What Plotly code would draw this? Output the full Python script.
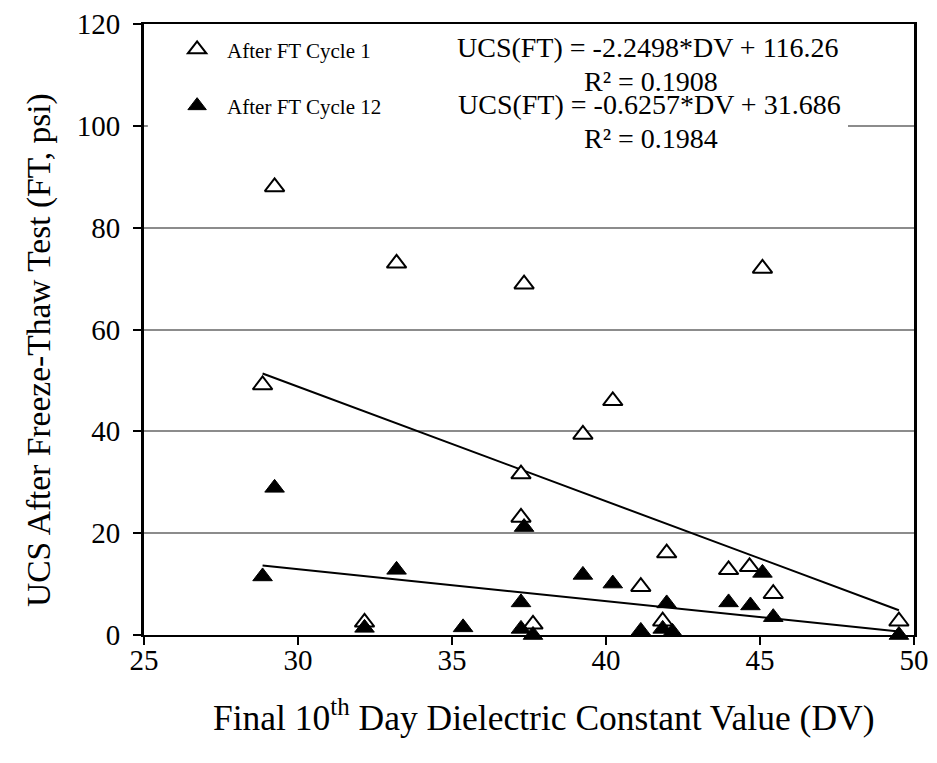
import plotly.graph_objects as go

# Cycle 1 (open triangles)
dv_c1 = [28.85, 29.24, 32.16, 33.2, 37.24, 37.24, 37.34, 37.63, 39.25, 40.22,
         41.13, 41.84, 41.97, 43.98, 44.66, 45.08, 45.43, 49.51]
ucs_c1 = [49.1, 88.0, 2.5, 73.0, 31.6, 23.1, 68.9, 2.1, 39.4, 46.0,
          9.5, 2.7, 16.1, 12.8, 13.4, 72.0, 8.1, 2.7]

# Cycle 12 (filled triangles)
dv_c12 = [28.85, 29.24, 32.16, 33.2, 35.36, 37.24, 37.24, 37.34, 37.63, 39.25,
          40.22, 41.13, 41.84, 41.97, 42.16, 43.98, 44.69, 45.08, 45.43, 49.51]
ucs_c12 = [11.5, 28.9, 1.4, 12.8, 1.5, 6.4, 1.2, 21.2, 0.0, 11.8,
           10.1, 0.8, 1.2, 6.2, 0.6, 6.4, 5.8, 12.2, 3.5, 0.0]

# Linear fit coefficients (from chart equations)
slope_c1, icpt_c1, r2_c1 = -2.2498, 116.26, 0.1908
slope_c12, icpt_c12, r2_c12 = -0.6257, 31.686, 0.1984

x_ticks = [25, 30, 35, 40, 45, 50]
y_ticks = [0, 20, 40, 60, 80, 100, 120]

FONT = "Times New Roman, Liberation Serif, serif"
W, H = 937, 763
L, R, T, B = 136, 31, 16, 136
PW, PH = W - L - R, H - T - B

fig = go.Figure()

def trend(xs, m, b):
    x0, x1 = min(xs), max(xs)
    return [x0, x1], [m * x0 + b, m * x1 + b]

tx1, ty1 = trend(dv_c1, slope_c1, icpt_c1)
tx12, ty12 = trend(dv_c12, slope_c12, icpt_c12)

fig.add_trace(go.Scatter(x=tx1, y=ty1, mode="lines", line=dict(color="black", width=2),
                         showlegend=False, hoverinfo="skip"))
fig.add_trace(go.Scatter(x=tx12, y=ty12, mode="lines", line=dict(color="black", width=2),
                         showlegend=False, hoverinfo="skip"))

fig.add_trace(go.Scatter(
    x=dv_c1, y=ucs_c1, mode="markers", name="After FT Cycle 1", legendgroup="a",
    marker=dict(symbol="triangle-up", size=17, color="white",
                line=dict(color="black", width=2)),
    cliponaxis=False))
fig.add_trace(go.Scatter(
    x=dv_c12, y=ucs_c12, mode="markers", name="After FT Cycle 12", legendgroup="b",
    marker=dict(symbol="triangle-up", size=17, color="black",
                line=dict(color="black", width=1)),
    cliponaxis=False))

# white mask hiding the 100 gridline behind the legend / equations (as in the source)
fig.add_shape(type="rect", xref="paper", x0=0.005, x1=(840 - L) / PW,
              yref="y", y0=99.3, y1=100.7, fillcolor="white", line_width=0,
              layer="above")

def ann(text, xc_px, yc_px, size=28):
    fig.add_annotation(x=(xc_px - L) / PW, xref="paper", y=1, yref="paper",
                       yanchor="middle", xanchor="center", yshift=-(yc_px - T),
                       text=text, showarrow=False, align="center",
                       font=dict(family=FONT, size=size, color="black"))

ann(f"UCS(FT) = {slope_c1}*DV + {icpt_c1}", 640, 39)
ann(f"R² = {r2_c1}", 643, 73)
ann(f"UCS(FT) = {slope_c12}*DV + {icpt_c12}", 641, 96)
ann(f"R² = {r2_c12}", 643, 130)

# axis titles
fig.add_annotation(x=(535 - L) / PW, xref="paper", y=0, yref="paper",
                   yanchor="middle", xanchor="center", yshift=-(707 - (H - B)),
                   text="Final 10<sup>th</sup> Day Dielectric Constant Value (DV)",
                   showarrow=False, font=dict(family=FONT, size=35.5, color="black"))
fig.add_annotation(x=0, xref="paper", xshift=-(L - 31), y=(H - B - 342) / PH, yref="paper",
                   yanchor="middle", xanchor="center", textangle=-90,
                   text="UCS After Freeze-Thaw Test (FT, psi)",
                   showarrow=False, font=dict(family=FONT, size=33.5, color="black"))

fig.update_layout(
    width=W, height=H,
    margin=dict(l=L, r=R, t=T, b=B, autoexpand=False),
    paper_bgcolor="white", plot_bgcolor="white",
    font=dict(family=FONT, color="black"),
    legend=dict(x=0.030, y=0.9915, xanchor="left", yanchor="top",
                bgcolor="white", font=dict(family=FONT, size=21),
                tracegroupgap=26, traceorder="grouped", itemwidth=50),
    xaxis=dict(range=[25, 50], tickvals=x_ticks, ticks="outside", ticklen=8,
               tickcolor="black", tickwidth=2, showgrid=False, zeroline=False,
               showline=True, linecolor="black", linewidth=2, mirror=True,
               tickfont=dict(family=FONT, size=29), ticklabelstandoff=-10,
               ticklabeloverflow="allow", automargin=False),
    yaxis=dict(range=[0, 120], tickvals=y_ticks, ticks="outside", ticklen=8,
               tickcolor="black", tickwidth=2, showgrid=True, gridcolor="#8c8c8c",
               gridwidth=1.5, zeroline=False,
               showline=True, linecolor="black", linewidth=3, mirror=True,
               tickfont=dict(family=FONT, size=29), ticklabelstandoff=7,
               ticklabeloverflow="allow", automargin=False),
)

fig.write_html("out.html")
